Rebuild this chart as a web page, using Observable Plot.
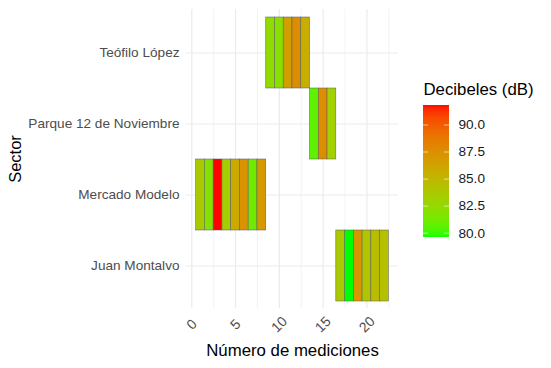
<!DOCTYPE html>
<html>
<head>
<meta charset="utf-8">
<script src="https://cdn.jsdelivr.net/npm/d3@7"></script>
<script src="https://cdn.jsdelivr.net/npm/@observablehq/plot@0.6"></script>
<style>
  html, body { margin: 0; padding: 0; background: #fff; }
  #wrap { position: relative; width: 551px; height: 368px; background: #fff; overflow: hidden; }
  #wrap svg { position: absolute; }
</style>
</head>
<body>
<div id="wrap"></div>
<script>
// Sector order, top to bottom
const sectors = ["Teófilo López", "Parque 12 de Noviembre", "Mercado Modelo", "Juan Montalvo"];

// One entry per measurement
const medicion = [1, 2, 3, 4, 5, 6, 7, 8, 9, 10, 11, 12, 13, 14, 15, 16, 17, 18, 19, 20, 21, 22];
const sectorDeMedicion = [
  "Mercado Modelo", "Mercado Modelo", "Mercado Modelo", "Mercado Modelo",
  "Mercado Modelo", "Mercado Modelo", "Mercado Modelo", "Mercado Modelo",
  "Teófilo López", "Teófilo López", "Teófilo López", "Teófilo López", "Teófilo López",
  "Parque 12 de Noviembre", "Parque 12 de Noviembre", "Parque 12 de Noviembre",
  "Juan Montalvo", "Juan Montalvo", "Juan Montalvo", "Juan Montalvo", "Juan Montalvo", "Juan Montalvo"
];
const decibeles = [
  83.5, 81.8, 91.8, 83.3, 85.8, 87.3, 81.2, 86.8,
  82.3, 82.0, 86.5, 87.5, 85.5,
  80.6, 87.5, 83.2,
  83.7, 79.6, 87.0, 84.0, 84.5, 84.3
];

const xTicks = [0, 5, 10, 15, 20];
const xMinorTicks = [2.5, 7.5, 12.5, 17.5, 22.5];
const legendTicks = [80, 82.5, 85, 87.5, 90];

const data = medicion.map((n, i) => ({n, sector: sectorDeMedicion[i], db: decibeles[i]}));
const dbMin = d3.min(decibeles), dbMax = d3.max(decibeles);

const font = "'Liberation Sans', Arial, sans-serif";
const colorOpts = {type: "linear", domain: [dbMin, dbMax], range: ["#00ff00", "#ff0000"], interpolate: "lab"};

const main = Plot.plot({
  width: 551, height: 368,
  marginLeft: 186, marginRight: 153, marginTop: 9, marginBottom: 60,
  style: {fontFamily: font, background: "transparent", overflow: "visible"},
  x: {domain: [-0.6, 23.6]},
  y: {type: "band", domain: sectors, paddingInner: 0, paddingOuter: 0.1},
  color: colorOpts,
  marks: [
    Plot.gridX(xMinorTicks, {stroke: "#ebebeb", strokeOpacity: 1, strokeWidth: 0.6}),
    Plot.gridX(xTicks, {stroke: "#ebebeb", strokeOpacity: 1, strokeWidth: 1.2}),
    Plot.gridY(sectors, {stroke: "#ebebeb", strokeOpacity: 1, strokeWidth: 1.2}),
    Plot.barX(data, {
      x1: d => d.n - 0.5, x2: d => d.n + 0.5, y: "sector", fill: "db",
      stroke: "#5a5a5a", strokeWidth: 0.6, strokeOpacity: 0.85
    }),
    Plot.axisX({
      ticks: xTicks, tickSize: 0, tickPadding: 16, tickRotate: -45,
      textAnchor: "middle", lineAnchor: "middle",
      fontSize: 14, fill: "#4d4d4d", label: null
    }),
    Plot.axisY({tickSize: 0, tickPadding: 7, fontSize: 13.6, fill: "#4d4d4d", label: null}),
    Plot.text(["Número de mediciones"], {
      text: d => d, frameAnchor: "bottom", dy: 42, lineAnchor: "middle",
      fontSize: 16.8, fill: "#000"
    }),
    Plot.text(["Sector"], {
      text: d => d, frameAnchor: "left", dx: -171, rotate: -90,
      textAnchor: "middle", lineAnchor: "middle", fontSize: 16.5, fill: "#000"
    })
  ]
});
main.style.left = "0px";
main.style.top = "0px";
document.getElementById("wrap").appendChild(main);

// Vertical colour bar legend, drawn with the same colour scale
const nSlices = 120;
const slices = d3.range(nSlices).map(i => {
  const a = dbMin + (dbMax - dbMin) * i / nSlices;
  const b = dbMin + (dbMax - dbMin) * (i + 1) / nSlices;
  return {y1: a, y2: b, v: (a + b) / 2};
});

const legend = Plot.plot({
  width: 128, height: 172,
  marginLeft: 0, marginRight: 102, marginTop: 30, marginBottom: 10,
  style: {fontFamily: font, background: "transparent", overflow: "visible"},
  x: {domain: [0, 1], axis: null},
  y: {domain: [dbMin, dbMax]},
  color: colorOpts,
  marks: [
    Plot.rect(slices, {x1: 0, x2: 1, y1: "y1", y2: "y2", fill: "v", shapeRendering: "crispEdges"}),
    Plot.ruleY(legendTicks, {x1: 0, x2: 0.2, stroke: "#fff", strokeOpacity: 0.6, strokeWidth: 1}),
    Plot.ruleY(legendTicks, {x1: 0.8, x2: 1, stroke: "#fff", strokeOpacity: 0.6, strokeWidth: 1}),
    Plot.axisY(legendTicks, {
      anchor: "right", tickSize: 0, tickPadding: 9, tickFormat: d3.format(".1f"),
      fontSize: 13.6, fill: "#1a1a1a", label: null
    }),
    Plot.text(["Decibeles (dB)"], {
      text: d => d, frameAnchor: "top-left", dy: -16, textAnchor: "start", lineAnchor: "middle",
      fontSize: 16.8, fill: "#000"
    })
  ]
});
legend.style.left = "423px";
legend.style.top = "75px";
document.getElementById("wrap").appendChild(legend);
</script>
</body>
</html>
